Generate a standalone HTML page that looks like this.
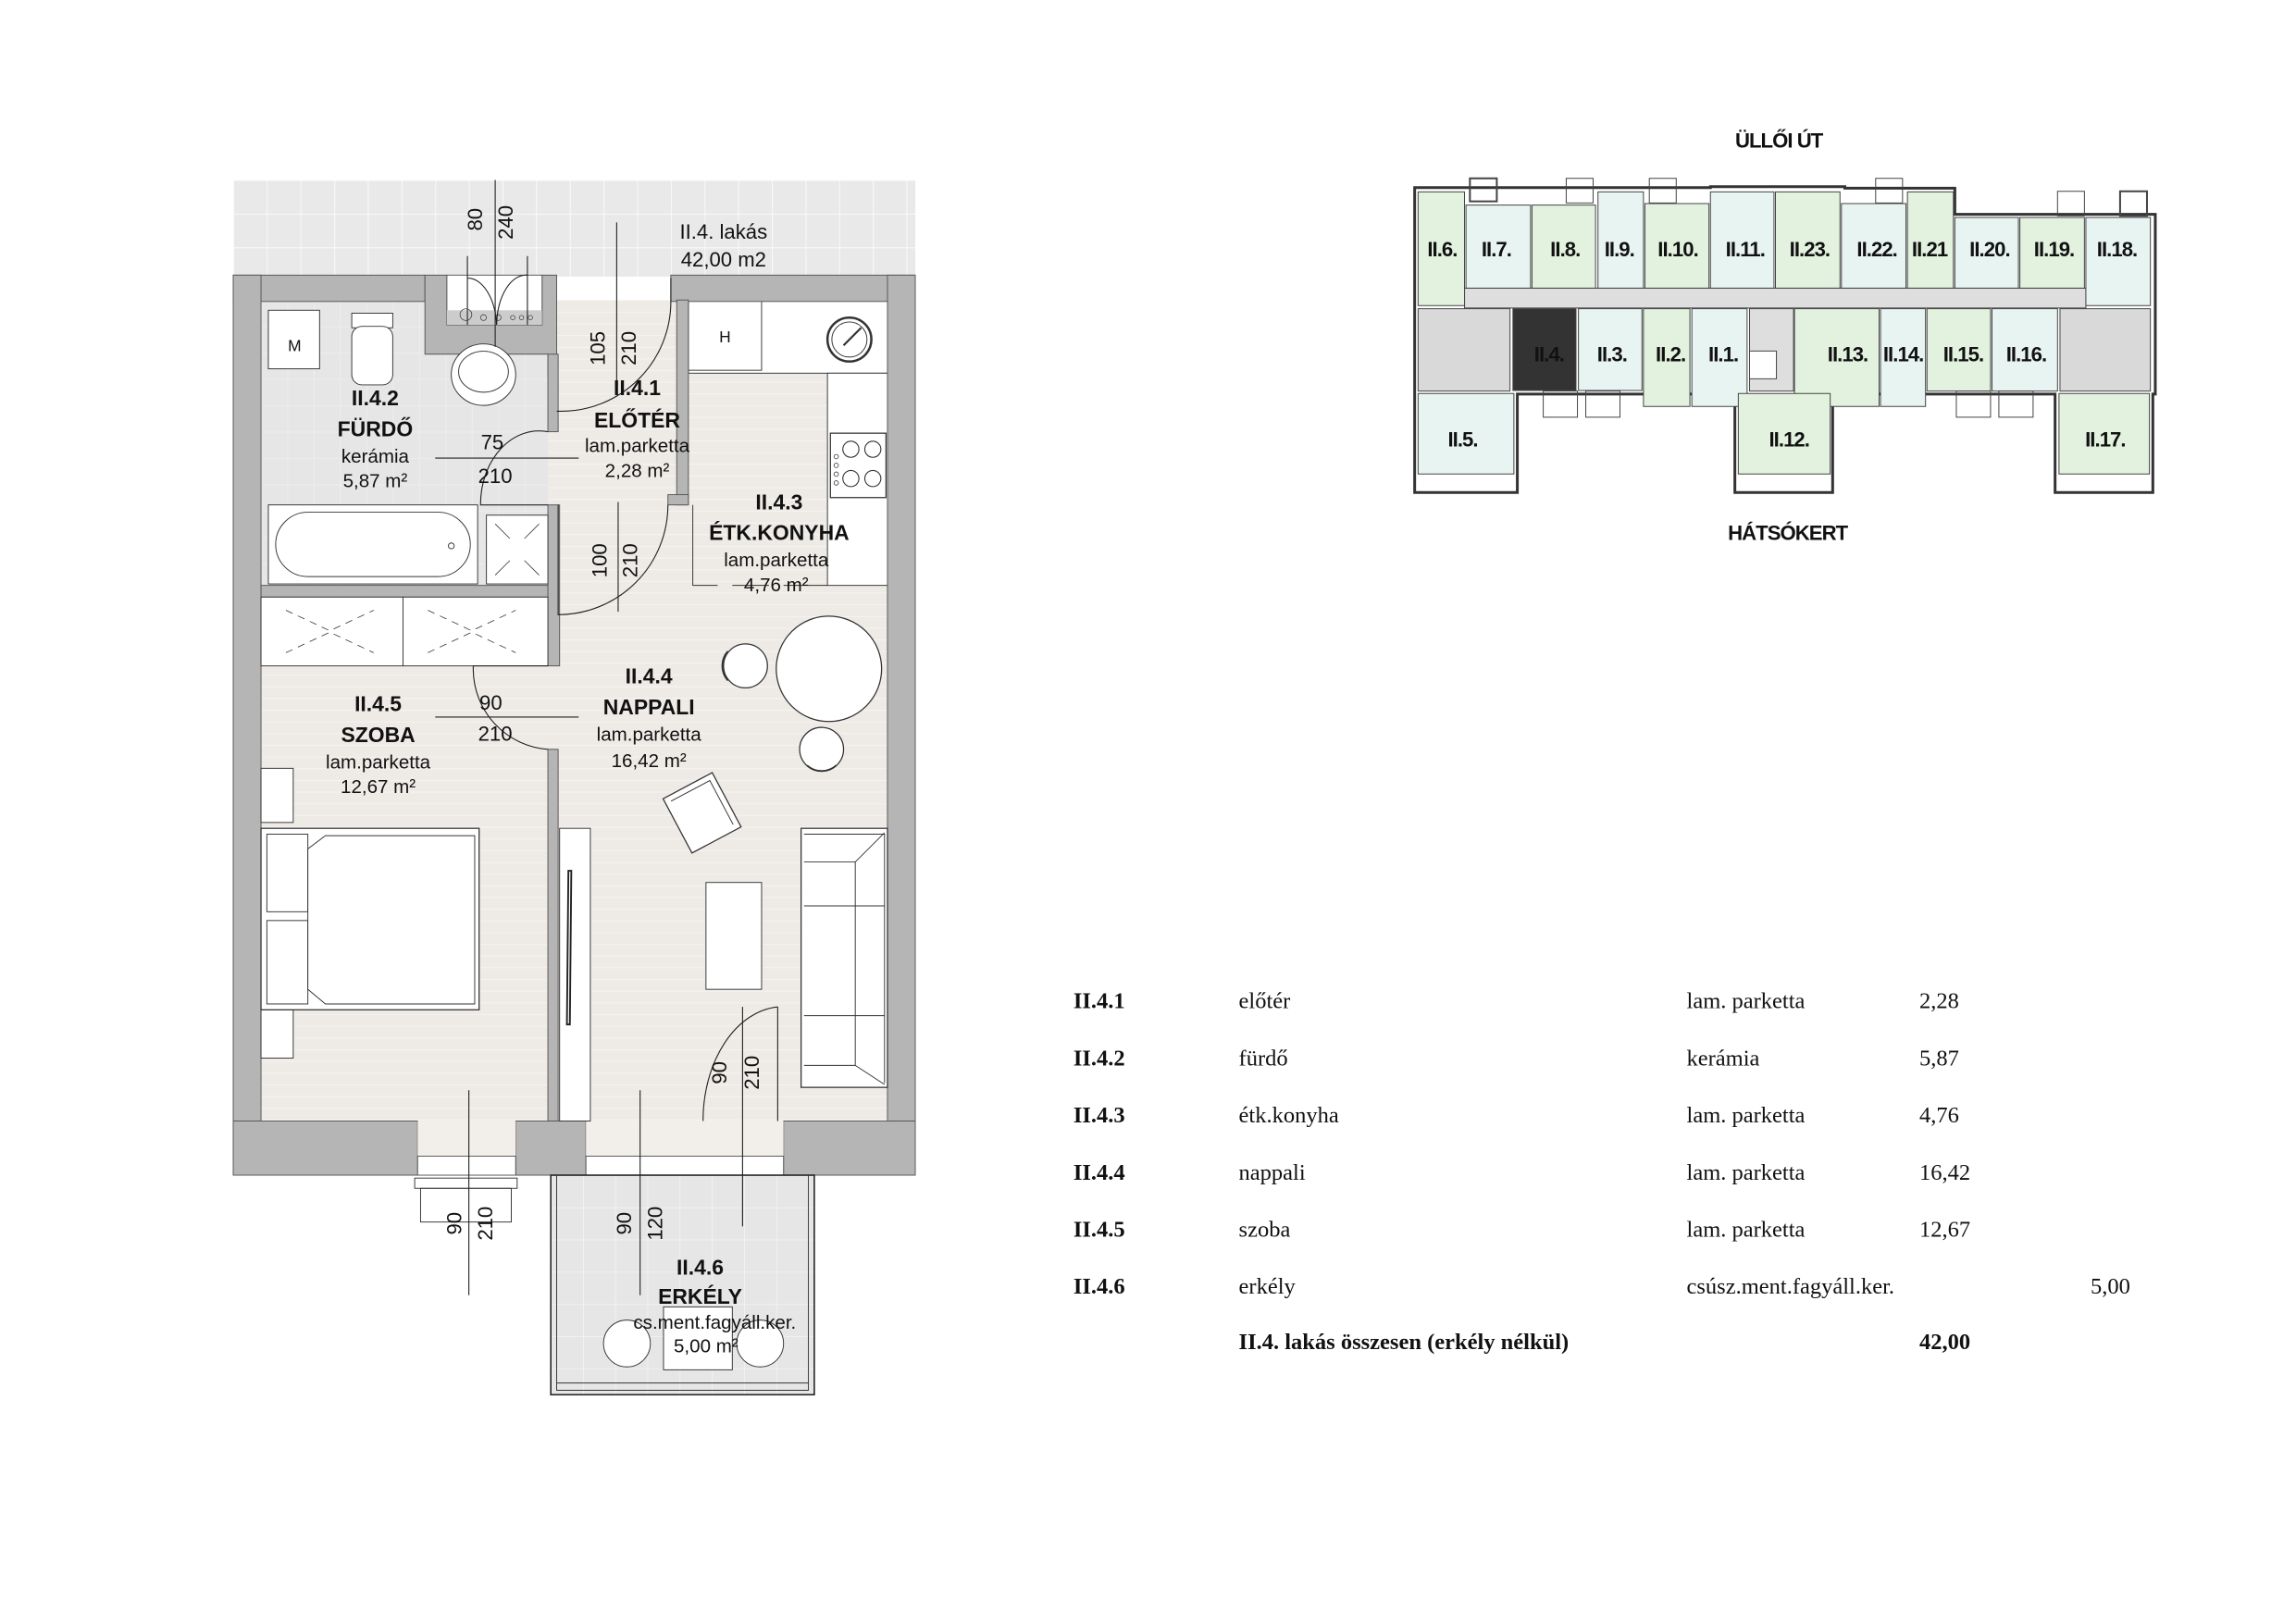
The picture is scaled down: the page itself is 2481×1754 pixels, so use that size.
<!DOCTYPE html>
<html><head><meta charset="utf-8"><style>
html,body{margin:0;padding:0;background:#fff}
svg{display:block}
.t{font-family:"Liberation Sans",sans-serif;fill:#111}
.s{font-family:"Liberation Serif",serif;fill:#111;font-size:15.5px}
</style></head><body>
<svg width="2481" height="1754" viewBox="0 0 1568 1109" xmlns="http://www.w3.org/2000/svg">
<defs>
<pattern id="tile" width="23" height="23" patternUnits="userSpaceOnUse" x="159" y="123">
<rect width="23" height="23" fill="#e9e9e9"/><path d="M0 0H23M0 0V23" stroke="#fafafa" stroke-width="1.2"/></pattern>
<pattern id="btile" width="18" height="18" patternUnits="userSpaceOnUse" x="178" y="205">
<rect width="18" height="18" fill="#e6e6e6"/><path d="M0 0H18M0 0V18" stroke="#efefef" stroke-width="1"/></pattern>
<pattern id="park" width="40" height="8" patternUnits="userSpaceOnUse" x="178" y="205">
<rect width="40" height="8" fill="#eeebe7"/><path d="M0 0H40" stroke="#f7f5f2" stroke-width="1"/></pattern>
<pattern id="btile2" width="22" height="22" patternUnits="userSpaceOnUse" x="376" y="803">
<rect width="22" height="22" fill="#e6e6e6"/><path d="M0 0H22M0 0V22" stroke="#f4f4f4" stroke-width="1"/></pattern>
</defs>

<rect x="159" y="123" width="466" height="66" fill="url(#tile)"/>
<rect x="178" y="205" width="428" height="561" fill="url(#park)"/>
<rect x="178" y="205" width="196" height="195" fill="url(#btile)"/>
<rect x="470" y="205" width="136" height="50" fill="#fff" stroke="#333" stroke-width="0.6"/>
<rect x="565" y="255" width="41" height="145" fill="#fff" stroke="#333" stroke-width="0.6"/>
<rect x="470" y="205" width="50" height="48" fill="#fff" stroke="#333" stroke-width="0.6"/>
<text class="t" x="495" y="234" font-size="11" text-anchor="middle">H</text>
<circle cx="580" cy="232" r="15" fill="#fff" stroke="#333" stroke-width="1.6"/>
<circle cx="580" cy="232" r="12" fill="none" stroke="#333" stroke-width="0.6"/>
<line x1="576" y1="236" x2="588" y2="224" stroke="#333" stroke-width="1.4"/>
<rect x="567" y="296" width="38" height="44" fill="#fff" stroke="#333" stroke-width="0.8"/>
<circle cx="581" cy="307" r="5.5" fill="none" stroke="#333" stroke-width="0.7"/><circle cx="596" cy="307" r="5.5" fill="none" stroke="#333" stroke-width="0.7"/>
<circle cx="581" cy="327" r="5.5" fill="none" stroke="#333" stroke-width="0.7"/><circle cx="596" cy="327" r="5.5" fill="none" stroke="#333" stroke-width="0.7"/>
<g fill="none" stroke="#333" stroke-width="0.5"><circle cx="571" cy="312" r="1.5"/><circle cx="571" cy="318" r="1.5"/><circle cx="571" cy="324" r="1.5"/><circle cx="571" cy="330" r="1.5"/></g>
<path d="M473 345V400H490M500 400H525M535 400H565" fill="none" stroke="#333" stroke-width="0.6"/>

<g fill="#b5b5b5" stroke="#555" stroke-width="0.6">
<rect x="159" y="188" width="131" height="18"/>
<path d="M290 188H305V222H370V188H380V257H374V242H290Z"/>
<rect x="458" y="188" width="167" height="18"/>
<rect x="159" y="188" width="19" height="603"/>
<rect x="606" y="188" width="19" height="578"/>
<rect x="374" y="242" width="7" height="53"/>
<rect x="374" y="345" width="8" height="110"/>
<rect x="374" y="512" width="7" height="254"/>
<rect x="178" y="400" width="196" height="8"/>
<rect x="462" y="205" width="8" height="140"/>
<rect x="456" y="338" width="14" height="7"/>
<rect x="159" y="766" width="126" height="37"/>
<rect x="352" y="766" width="48" height="37"/>
<rect x="535" y="766" width="90" height="37"/>
</g>
<rect x="285" y="766" width="67" height="37" fill="#f2efeb"/>
<rect x="285" y="790" width="67" height="13" fill="#fff" stroke="#555" stroke-width="0.6"/>
<rect x="400" y="766" width="135" height="37" fill="#f2efeb"/>
<rect x="400" y="790" width="135" height="13" fill="#fff" stroke="#555" stroke-width="0.6"/>
<rect x="305" y="188" width="65" height="34" fill="#fff" stroke="#555" stroke-width="0.6"/>
<rect x="305" y="212" width="65" height="10" fill="#ccc"/>
<g fill="none" stroke="#444" stroke-width="0.5"><circle cx="318" cy="215" r="4"/><circle cx="330" cy="217" r="2"/><circle cx="340" cy="217" r="2"/><circle cx="350" cy="217" r="1.5"/><circle cx="356" cy="217" r="1.5"/><circle cx="362" cy="217" r="1.5"/></g>

<rect x="183" y="212" width="35" height="40" fill="#fff" stroke="#333" stroke-width="0.6"/>
<text class="t" x="201" y="240" font-size="11" text-anchor="middle">M</text>
<rect x="240" y="214" width="28" height="10" fill="#fff" stroke="#333" stroke-width="0.6"/>
<rect x="240" y="223" width="28" height="40" rx="7" fill="#fff" stroke="#333" stroke-width="0.6"/>
<ellipse cx="330" cy="256" rx="22" ry="21" fill="#fff" stroke="#333" stroke-width="0.6"/>
<ellipse cx="330" cy="254" rx="17" ry="14" fill="none" stroke="#333" stroke-width="0.6"/>
<rect x="183" y="345" width="143" height="54" fill="#fff" stroke="#333" stroke-width="0.6"/>
<rect x="188" y="350" width="133" height="44" rx="22" fill="#fff" stroke="#333" stroke-width="0.6"/>
<circle cx="308" cy="373" r="2" fill="none" stroke="#333" stroke-width="0.6"/>
<rect x="332" y="352" width="42" height="47" fill="#fff" stroke="#333" stroke-width="0.6"/>
<path d="M338 358l10 10M368 358l-10 10M338 393l10-10M368 393l-10-10" stroke="#333" stroke-width="0.5"/>
<rect x="178" y="408" width="97" height="47" fill="#fff" stroke="#333" stroke-width="0.6"/>
<rect x="275" y="408" width="99" height="47" fill="#fff" stroke="#333" stroke-width="0.6"/>
<path d="M195 417l30 14l30-14M195 446l30-14l30 14M292 417l30 14l30-14M292 446l30-14l30 14" fill="none" stroke="#333" stroke-width="0.5" stroke-dasharray="5 4"/>

<rect x="178" y="525" width="22" height="37" fill="#fff" stroke="#333" stroke-width="0.6"/>
<rect x="178" y="690" width="22" height="33" fill="#fff" stroke="#333" stroke-width="0.6"/>
<rect x="178" y="566" width="149" height="124" fill="#fff" stroke="#333" stroke-width="0.8"/>
<rect x="182" y="570" width="28" height="53" fill="#fff" stroke="#333" stroke-width="0.6"/>
<rect x="182" y="629" width="28" height="57" fill="#fff" stroke="#333" stroke-width="0.6"/>
<path d="M222 571H324V686H222L210 676V580Z" fill="#fff" stroke="#333" stroke-width="0.6"/>
<rect x="382" y="566" width="21" height="200" fill="#fff" stroke="#333" stroke-width="0.6"/>
<path d="M388 595L390 595L389 700L387 700Z" fill="#fff" stroke="#222" stroke-width="1.2"/>
<rect x="482" y="603" width="38" height="73" fill="#fff" stroke="#333" stroke-width="0.6"/>
<rect x="547" y="566" width="59" height="177" fill="#fff" stroke="#333" stroke-width="0.8"/>
<path d="M549 589H584V728H549M584 589L604 569M584 728L604 741M584 619H604M584 694H604M549 619H584M549 694H584M549 570H604V740" fill="none" stroke="#333" stroke-width="0.6"/>
<g transform="rotate(-28 478 555)"><rect x="460" y="535" width="38" height="42" fill="#fff" stroke="#333" stroke-width="0.8"/><path d="M464 539H494V573" fill="none" stroke="#333" stroke-width="0.6"/></g>
<circle cx="566" cy="457" r="36" fill="#fff" stroke="#333" stroke-width="0.8"/>
<circle cx="509" cy="455" r="15" fill="#fff" stroke="#333" stroke-width="0.8"/>
<path d="M497 445A15 15 0 0 0 497 465" fill="none" stroke="#333" stroke-width="1.2"/>
<circle cx="561" cy="512" r="15" fill="#fff" stroke="#333" stroke-width="0.8"/>
<path d="M551 523A15 15 0 0 0 571 523" fill="none" stroke="#333" stroke-width="1.2"/>

<!-- balcony (before labels) -->
<rect x="376" y="803" width="180" height="150" fill="url(#btile2)" stroke="#222" stroke-width="1"/>
<path d="M380 803V950H552V803M380 945H552" fill="none" stroke="#333" stroke-width="0.6"/>
<rect x="283" y="805" width="70" height="7" fill="#fff" stroke="#333" stroke-width="0.6"/>
<rect x="287" y="812" width="62" height="23" fill="none" stroke="#333" stroke-width="0.6"/>
<rect x="453" y="893" width="47" height="43" fill="#fff" stroke="#333" stroke-width="0.6"/>
<circle cx="428" cy="918" r="16" fill="#fff" stroke="#333" stroke-width="0.6"/>
<circle cx="519" cy="918" r="16" fill="#fff" stroke="#333" stroke-width="0.6"/>

<g fill="none" stroke="#222" stroke-width="0.7">
<path d="M458 190V206M458 206A75 75 0 0 1 383 281M383 281H380"/>
<path d="M374 295A40 50 0 0 0 328 345H374"/>
<path d="M456 345A75 75 0 0 1 381 420V345"/>
<path d="M374 455H323V458A55 55 0 0 0 374 512"/>
<path d="M531 688V766M531 688A55 78 0 0 0 480 766"/>
<path d="M319 188V190A20 35 0 0 1 339 222M360 188A20 35 0 0 0 339 222M319 175V222M360 175V222"/>
</g>
<g stroke="#222" stroke-width="0.7">
<line x1="338" y1="123" x2="338" y2="237"/>
<line x1="421" y1="152" x2="421" y2="267"/>
<line x1="422" y1="343" x2="422" y2="418"/>
<line x1="297" y1="313" x2="395" y2="313"/>
<line x1="297" y1="490" x2="395" y2="490"/>
<line x1="320" y1="745" x2="320" y2="885"/>
<line x1="437" y1="745" x2="437" y2="885"/>
<line x1="507" y1="688" x2="507" y2="838"/>
</g>
<g class="t" font-size="14" text-anchor="middle">
<text transform="translate(329 150) rotate(-90)">80</text>
<text transform="translate(350 152) rotate(-90)">240</text>
<text transform="translate(413 238) rotate(-90)">105</text>
<text transform="translate(434 238) rotate(-90)">210</text>
<text transform="translate(414 383) rotate(-90)">100</text>
<text transform="translate(435 383) rotate(-90)">210</text>
<text transform="translate(315 836) rotate(-90)">90</text>
<text transform="translate(336 836) rotate(-90)">210</text>
<text transform="translate(431 836) rotate(-90)">90</text>
<text transform="translate(452 836) rotate(-90)">120</text>
<text transform="translate(496 733) rotate(-90)">90</text>
<text transform="translate(518 733) rotate(-90)">210</text>
<text x="336" y="307">75</text><text x="338" y="330">210</text>
<text x="335" y="485">90</text><text x="338" y="506">210</text>
<text x="494" y="163">II.4. lakás</text><text x="494" y="182">42,00 m2</text>
</g>
<g class="t" text-anchor="middle">
<g font-weight="bold" font-size="14.5">
<text x="256" y="277">II.4.2</text><text x="256" y="298">FÜRDŐ</text>
<text x="435" y="270">II.4.1</text><text x="435" y="292">ELŐTÉR</text>
<text x="532" y="348">II.4.3</text><text x="532" y="369">ÉTK.KONYHA</text>
<text x="443" y="467">II.4.4</text><text x="443" y="488">NAPPALI</text>
<text x="258" y="486">II.4.5</text><text x="258" y="507">SZOBA</text>
<text x="478" y="871">II.4.6</text><text x="478" y="891">ERKÉLY</text>
</g>
<g font-size="13">
<text x="256" y="316">kerámia</text><text x="256" y="333">5,87 m²</text>
<text x="435" y="309">lam.parketta</text><text x="435" y="326">2,28 m²</text>
<text x="530" y="387">lam.parketta</text><text x="530" y="404">4,76 m²</text>
<text x="443" y="506">lam.parketta</text><text x="443" y="524">16,42 m²</text>
<text x="258" y="525">lam.parketta</text><text x="258" y="542">12,67 m²</text>
<text x="488" y="908">cs.ment.fagyáll.ker.</text><text x="482" y="924">5,00 m²</text>
</g>
</g>

<!-- key plan -->
<g transform="translate(954.5 76.1) scale(0.334 0.21)" stroke="#444" stroke-width="1">
<path d="M35 248H640V245H915V250H1140V335H1550V920H1545V1240H1345V920H890V1240H690V920H245V1240H35Z" fill="#fff" stroke="#333" stroke-width="3" vector-effect="non-scaling-stroke"/>
<rect x="137" y="575" width="1271" height="65" fill="#dedede" vector-effect="non-scaling-stroke"/>
<rect x="42" y="262" width="95" height="370" fill="#e2f2df" vector-effect="non-scaling-stroke"/>
<rect x="140" y="305" width="132" height="270" fill="#e8f4f2" vector-effect="non-scaling-stroke"/>
<rect x="275" y="305" width="130" height="270" fill="#e2f2df" vector-effect="non-scaling-stroke"/>
<rect x="410" y="262" width="93" height="313" fill="#e8f4f2" vector-effect="non-scaling-stroke"/>
<rect x="506" y="300" width="131" height="275" fill="#e2f2df" vector-effect="non-scaling-stroke"/>
<rect x="640" y="262" width="130" height="313" fill="#e8f4f2" vector-effect="non-scaling-stroke"/>
<rect x="773" y="262" width="132" height="313" fill="#e2f2df" vector-effect="non-scaling-stroke"/>
<rect x="908" y="300" width="132" height="275" fill="#e8f4f2" vector-effect="non-scaling-stroke"/>
<rect x="1043" y="262" width="94" height="313" fill="#e2f2df" vector-effect="non-scaling-stroke"/>
<rect x="1140" y="345" width="130" height="230" fill="#e8f4f2" vector-effect="non-scaling-stroke"/>
<rect x="1273" y="345" width="132" height="230" fill="#e2f2df" vector-effect="non-scaling-stroke"/>
<rect x="1408" y="345" width="132" height="287" fill="#e8f4f2" vector-effect="non-scaling-stroke"/>
<rect x="42" y="642" width="188" height="268" fill="#d9d9d9" vector-effect="non-scaling-stroke"/>
<rect x="1355" y="642" width="185" height="268" fill="#d9d9d9" vector-effect="non-scaling-stroke"/>
<rect x="236" y="642" width="129" height="266" fill="#333" vector-effect="non-scaling-stroke"/>
<rect x="370" y="642" width="130" height="266" fill="#e8f4f2" vector-effect="non-scaling-stroke"/>
<rect x="503" y="642" width="95" height="318" fill="#e2f2df" vector-effect="non-scaling-stroke"/>
<rect x="602" y="642" width="113" height="318" fill="#e8f4f2" vector-effect="non-scaling-stroke"/>
<rect x="720" y="642" width="90" height="268" fill="#dedede" vector-effect="non-scaling-stroke"/>
<rect x="812" y="642" width="173" height="318" fill="#e2f2df" vector-effect="non-scaling-stroke"/>
<rect x="988" y="642" width="92" height="318" fill="#e8f4f2" vector-effect="non-scaling-stroke"/>
<rect x="1083" y="642" width="130" height="268" fill="#e2f2df" vector-effect="non-scaling-stroke"/>
<rect x="1216" y="642" width="134" height="268" fill="#e8f4f2" vector-effect="non-scaling-stroke"/>
<rect x="42" y="918" width="196" height="262" fill="#e8f4f2" vector-effect="non-scaling-stroke"/>
<rect x="697" y="918" width="188" height="262" fill="#e2f2df" vector-effect="non-scaling-stroke"/>
<rect x="1353" y="918" width="185" height="262" fill="#e2f2df" vector-effect="non-scaling-stroke"/>
<rect x="720" y="780" width="55" height="90" fill="#fff" vector-effect="non-scaling-stroke"/>
<rect x="148" y="218" width="55" height="75" fill="none" stroke-width="2" vector-effect="non-scaling-stroke"/>
<rect x="345" y="218" width="55" height="80" fill="none" vector-effect="non-scaling-stroke"/>
<rect x="515" y="218" width="55" height="80" fill="none" vector-effect="non-scaling-stroke"/>
<rect x="978" y="218" width="55" height="80" fill="none" vector-effect="non-scaling-stroke"/>
<rect x="1350" y="260" width="55" height="80" fill="none" vector-effect="non-scaling-stroke"/>
<rect x="1478" y="260" width="55" height="80" fill="none" stroke-width="2" vector-effect="non-scaling-stroke"/>
<rect x="298" y="910" width="70" height="85" fill="none" vector-effect="non-scaling-stroke"/>
<rect x="385" y="910" width="70" height="85" fill="none" vector-effect="non-scaling-stroke"/>
<rect x="1143" y="910" width="70" height="85" fill="none" vector-effect="non-scaling-stroke"/>
<rect x="1230" y="910" width="70" height="85" fill="none" vector-effect="non-scaling-stroke"/>
</g>
<g class="t" font-weight="bold" font-size="14" text-anchor="middle" letter-spacing="-0.6">
<text x="1215" y="101">ÜLLŐI ÚT</text><text x="1221" y="369">HÁTSÓKERT</text>
<text x="985" y="175">II.6.</text><text x="1022" y="175">II.7.</text><text x="1069" y="175">II.8.</text><text x="1106" y="175">II.9.</text><text x="1146" y="175">II.10.</text><text x="1192" y="175">II.11.</text><text x="1236" y="175">II.23.</text><text x="1282" y="175">II.22.</text><text x="1318" y="175">II.21</text><text x="1359" y="175">II.20.</text><text x="1403" y="175">II.19.</text><text x="1446" y="175">II.18.</text>
<text x="1058" y="247" fill="#111">II.4.</text><text x="1101" y="247">II.3.</text><text x="1141" y="247">II.2.</text><text x="1177" y="247">II.1.</text><text x="1262" y="247">II.13.</text><text x="1300" y="247">II.14.</text><text x="1341" y="247">II.15.</text><text x="1384" y="247">II.16.</text>
<text x="999" y="305">II.5.</text><text x="1222" y="305">II.12.</text><text x="1438" y="305">II.17.</text>
</g>

<g class="s">
<g font-weight="bold"><text x="733" y="689">II.4.1</text><text x="733" y="728">II.4.2</text><text x="733" y="767">II.4.3</text><text x="733" y="806">II.4.4</text><text x="733" y="845">II.4.5</text><text x="733" y="884">II.4.6</text><text x="846" y="922">II.4. lakás összesen (erkély nélkül)</text><text x="1311" y="922">42,00</text></g>
<text x="846" y="689">előtér</text><text x="846" y="728">fürdő</text><text x="846" y="767">étk.konyha</text><text x="846" y="806">nappali</text><text x="846" y="845">szoba</text><text x="846" y="884">erkély</text>
<text x="1152" y="689">lam. parketta</text><text x="1152" y="728">kerámia</text><text x="1152" y="767">lam. parketta</text><text x="1152" y="806">lam. parketta</text><text x="1152" y="845">lam. parketta</text><text x="1152" y="884">csúsz.ment.fagyáll.ker.</text>
<text x="1311" y="689">2,28</text><text x="1311" y="728">5,87</text><text x="1311" y="767">4,76</text><text x="1311" y="806">16,42</text><text x="1311" y="845">12,67</text><text x="1428" y="884">5,00</text>
</g>
</svg>
</body></html>
